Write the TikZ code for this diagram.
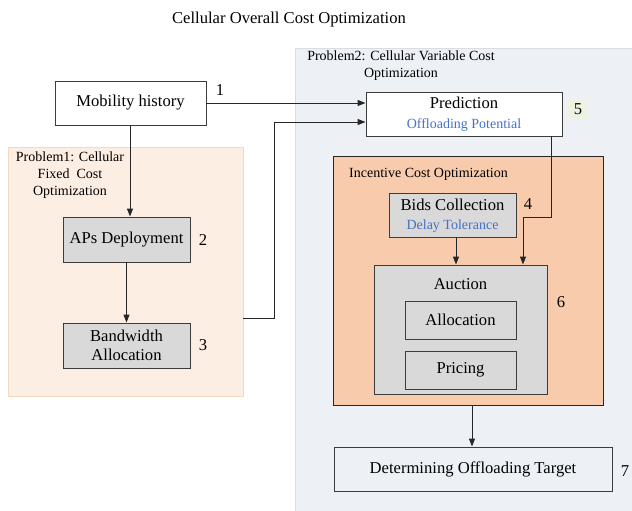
\documentclass[tikz,border=0pt]{standalone}
\usepackage{fontspec}
\setmainfont{Liberation Serif}
\usetikzlibrary{arrows.meta,positioning}

\definecolor{regiontwo}{HTML}{EDF0F5}
\definecolor{regiontwoedge}{HTML}{D9DCE2}
\definecolor{regionone}{HTML}{FDEEE3}
\definecolor{regiononeedge}{HTML}{F9D8BD}
\definecolor{incentive}{HTML}{F8CBAD}
\definecolor{boxgray}{HTML}{D9D9D9}
\definecolor{boxedge}{HTML}{3C3C3C}
\definecolor{subtext}{HTML}{4472C4}
\definecolor{tagfill}{HTML}{EEF2E1}

\newcommand{\bigtxt}{\fontsize{16.6}{19.5}\selectfont}
\newcommand{\smalltxt}{\fontsize{14}{17}\selectfont}

\tikzset{
  plainbox/.style={draw=boxedge, line width=0.9pt, fill=white, inner sep=0pt,
    align=center, font=\bigtxt},
  graybox/.style={plainbox, fill=boxgray},
  region/.style={inner sep=0pt},
  flow/.style={draw=black!85, line width=1pt, -{Triangle[length=8pt,width=6pt]}},
  link/.style={draw=black!85, line width=1pt},
  stepnum/.style={font=\bigtxt, inner sep=1pt},
  caption/.style={font=\smalltxt, align=center, inner sep=0pt},
}

\begin{document}
\begin{tikzpicture}[x=1pt, y=-1pt]
  \useasboundingbox (0,0) rectangle (632,511);

  % title
  \node[font=\bigtxt] (title) at (289,20) {Cellular Overall Cost Optimization};

  % variable-cost region (right)
  \node[region, fill=regiontwo, draw=regiontwoedge, line width=0.6pt,
        minimum width=345pt, minimum height=470pt] (p2) at (467.5,283) {};
  \node[caption] (p2lbl) at (401,65.5) {Problem2: Cellular Variable Cost\\Optimization};

  % fixed-cost region (left)
  \node[region, fill=regionone, draw=regiononeedge, line width=0.8pt,
        minimum width=235pt, minimum height=249pt] (p1) at (125.5,271.5) {};
  \node[caption] (p1lbl) at (70,175) {Problem1: Cellular\\Fixed\ \ Cost\\Optimization};

  % incentive region
  \node[region, fill=incentive, draw=black!85, line width=0.9pt,
        minimum width=270pt, minimum height=249pt] (inc) at (468,280.5) {};
  \node[caption] (inclbl) at (428.5,174) {Incentive Cost Optimization};

  % boxes
  \node[plainbox, minimum width=151pt, minimum height=44pt] (mob) at (130.5,103) {Mobility history};
  \node[plainbox, minimum width=196pt, minimum height=44pt] (pred) at (464,114) {};
  \node[font=\bigtxt] (predtxt) at (464,103) {Prediction};
  \node[caption, text=subtext] (predsub) at (464,125) {Offloading Potential};

  \node[graybox, minimum width=127pt, minimum height=45pt] (aps) at (126.5,239.5) {APs Deployment};
  \node[graybox, minimum width=127pt, minimum height=45pt] (bw) at (126.5,345.5) {Bandwidth\\[-1pt]Allocation};

  \node[graybox, minimum width=127pt, minimum height=44pt] (bids) at (452.5,215) {};
  \node[font=\bigtxt] (bidstxt) at (452.5,205) {Bids Collection};
  \node[caption, text=subtext] (bidssub) at (452.5,226) {Delay Tolerance};

  \node[graybox, minimum width=173pt, minimum height=129pt] (auc) at (460.5,329.5) {};
  \node[font=\bigtxt] (auctxt) at (460.5,284) {Auction};
  \node[graybox, minimum width=111pt, minimum height=38pt] (alloc) at (460.5,320) {Allocation};
  \node[graybox, minimum width=111pt, minimum height=38pt] (price) at (460.5,370) {Pricing};

  \node[plainbox, fill=regiontwo, minimum width=278pt, minimum height=44pt] (det) at (473,469) {Determining Offloading Target};

  % step numbers
  \node[stepnum] (n1) at (220,90) {1};
  \node[stepnum] (n2) at (203,240) {2};
  \node[stepnum] (n3) at (203,345) {3};
  \node[stepnum] (n4) at (528,204) {4};
  \node[stepnum, fill=tagfill, minimum width=20pt, minimum height=19pt, inner sep=0pt] (n5) at (578,109.5) {5};
  \node[stepnum] (n6) at (561,302) {6};
  \node[stepnum] (n7) at (625,471) {7};

  % connectors
  \draw[flow] (mob.east) -- (mob.east -| pred.west);
  \draw[flow] ([xshift=-0.5pt]mob.south) -- ([xshift=-0.5pt]mob.south |- aps.north);
  \draw[flow] (aps.south) -- (bw.north);

  \coordinate (j1) at (274,318);
  \draw[flow] (p1.east |- j1) -- (j1) |- ([yshift=-8pt]pred.west);

  \coordinate (j2) at (551,217);
  \coordinate (j3) at (523,217);
  \draw[link] (pred.south -| j2) -- (j2) -- (j3);
  \draw[flow] (j3) -- (j3 |- auc.north);
  \draw[flow] ([xshift=3.5pt]bids.south) -- ([xshift=3.5pt]bids.south |- auc.north);

  \draw[flow] ([xshift=4pt]inc.south) -- ([xshift=4pt]inc.south |- det.north);
\end{tikzpicture}
\end{document}
